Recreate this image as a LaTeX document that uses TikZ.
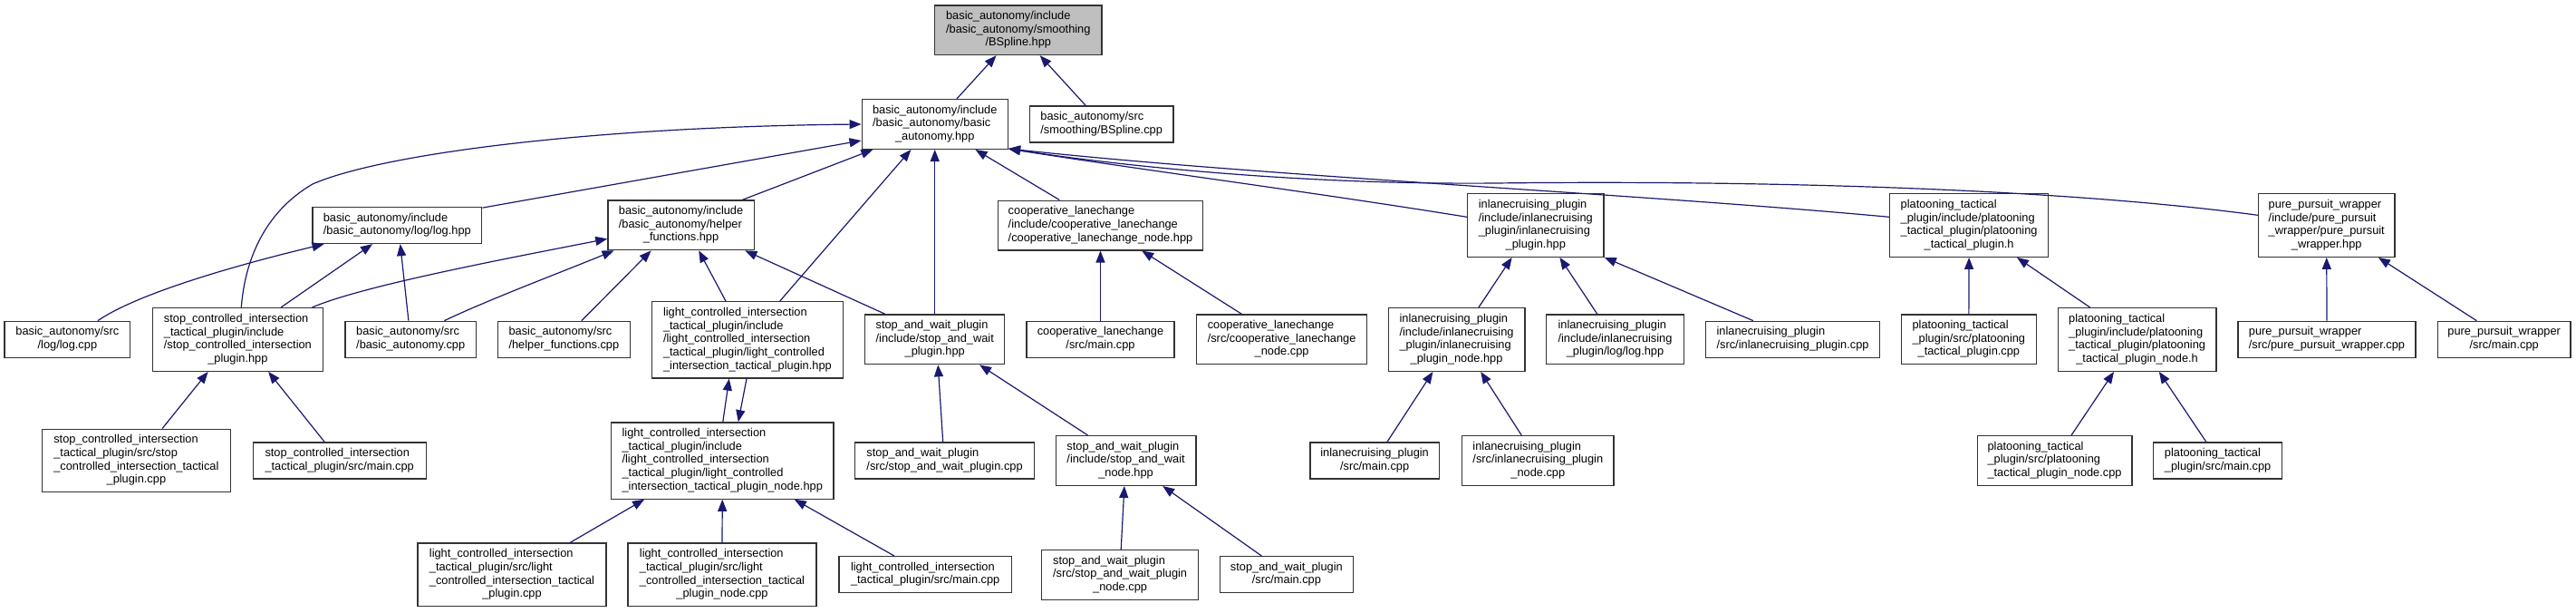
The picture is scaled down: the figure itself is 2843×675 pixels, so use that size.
\documentclass[tikz,border=0pt]{standalone}
\usepackage{fontspec}
\setmainfont{Liberation Sans}
\usetikzlibrary{arrows.meta,calc}
\definecolor{mblue}{RGB}{25,25,112}
\definecolor{rootgray}{RGB}{191,191,191}
\newcommand{\fl}[2]{\begin{tabular}{@{}l@{}}#1\\\multicolumn{1}{@{}c@{}}{#2}\end{tabular}}
\tikzset{
  fbox/.style={draw=black!80, line width=1.3pt, fill=white, inner sep=0pt, font=\fontsize{12.8}{14.67}\selectfont, text=black},
  ltwo/.style={minimum height=40pt},
  lthree/.style={minimum height=54.7pt},
  lfour/.style={minimum height=69.6pt},
  lfive/.style={minimum height=84.3pt},
  edge/.style={draw=mblue, line width=1.2pt, -{Triangle[length=13pt,width=10pt]}}
}
\begin{document}
\begin{tikzpicture}[x=1pt,y=-1pt]
\useasboundingbox[fill=white] (0,0) rectangle (2843,675);
% row 1
\node[fbox,lthree,fill=rootgray,minimum width=184.6pt] (root) at (1123.8,33.2) {\fl{basic\_autonomy/include\\/basic\_autonomy/smoothing}{/BSpline.hpp}};
% row 2
\node[fbox,lthree,minimum width=161.1pt] (ba) at (1031.75,137) {\fl{basic\_autonomy/include\\/basic\_autonomy/basic}{\_autonomy.hpp}};
\node[fbox,ltwo,minimum width=158.9pt] (bscpp) at (1215.65,137) {\fl{basic\_autonomy/src}{/smoothing/BSpline.cpp}};
% row 3
\node[fbox,ltwo,minimum width=186.8pt] (loghpp) at (438.3,248.5) {\fl{basic\_autonomy/include}{/basic\_autonomy/log/log.hpp}};
\node[fbox,lthree,minimum width=161.3pt] (helper) at (751.55,248.35) {\fl{basic\_autonomy/include\\/basic\_autonomy/helper}{\_functions.hpp}};
\node[fbox,lthree,minimum width=225.4pt] (coopnode) at (1214.5,248.5) {\fl{cooperative\_lanechange\\/include/cooperative\_lanechange}{/cooperative\_lanechange\_node.hpp}};
\node[fbox,lfour,minimum width=150.6pt] (inlane) at (1694.8,248.5) {\fl{inlanecruising\_plugin\\/include/inlanecruising\\\_plugin/inlanecruising}{\_plugin.hpp}};
\node[fbox,lfour,minimum width=175pt] (plat) at (2173.1,248.5) {\fl{platooning\_tactical\\\_plugin/include/platooning\\\_tactical\_plugin/platooning}{\_tactical\_plugin.h}};
\node[fbox,lfour,minimum width=150.3pt] (pp) at (2567.75,248.5) {\fl{pure\_pursuit\_wrapper\\/include/pure\_pursuit\\\_wrapper/pure\_pursuit}{\_wrapper.hpp}};
% row 4
\node[fbox,ltwo,minimum width=138.6pt] (logcpp) at (74.4,374.3) {\fl{basic\_autonomy/src}{/log/log.cpp}};
\node[fbox,lfour,minimum width=187.8pt] (sci) at (262.4,374.5) {\fl{stop\_controlled\_intersection\\\_tactical\_plugin/include\\/stop\_controlled\_intersection}{\_plugin.hpp}};
\node[fbox,ltwo,minimum width=144.2pt] (bacpp) at (453.2,374.3) {\fl{basic\_autonomy/src}{/basic\_autonomy.cpp}};
\node[fbox,ltwo,minimum width=145.6pt] (helpcpp) at (622.4,374.3) {\fl{basic\_autonomy/src}{/helper\_functions.cpp}};
\node[fbox,lfive,minimum width=211.2pt] (lci) at (824.9,374.85) {\fl{light\_controlled\_intersection\\\_tactical\_plugin/include\\/light\_controlled\_intersection\\\_tactical\_plugin/light\_controlled}{\_intersection\_tactical\_plugin.hpp}};
\node[fbox,lthree,minimum width=153.9pt] (swp) at (1031.75,374.35) {\fl{stop\_and\_wait\_plugin\\/include/stop\_and\_wait}{\_plugin.hpp}};
\node[fbox,ltwo,minimum width=163pt] (coopmain) at (1214.5,374.3) {\fl{cooperative\_lanechange}{/src/main.cpp}};
\node[fbox,lthree,minimum width=188.4pt] (coopnodecpp) at (1414.6,374.35) {\fl{cooperative\_lanechange\\/src/cooperative\_lanechange}{\_node.cpp}};
\node[fbox,lfour,minimum width=150.7pt] (inlanenode) at (1607.55,374.5) {\fl{inlanecruising\_plugin\\/include/inlanecruising\\\_plugin/inlanecruising}{\_plugin\_node.hpp}};
\node[fbox,lthree,minimum width=151.6pt] (inlanelog) at (1782.5,374.35) {\fl{inlanecruising\_plugin\\/include/inlanecruising}{\_plugin/log/log.hpp}};
\node[fbox,ltwo,minimum width=191.9pt] (inlanecpp) at (1978.55,374.3) {\fl{inlanecruising\_plugin}{/src/inlanecruising\_plugin.cpp}};
\node[fbox,lthree,minimum width=148.9pt] (platcpp) at (2172.85,374.35) {\fl{platooning\_tactical\\\_plugin/src/platooning}{\_tactical\_plugin.cpp}};
\node[fbox,lfour,minimum width=174.8pt] (platnode) at (2358.6,374.5) {\fl{platooning\_tactical\\\_plugin/include/platooning\\\_tactical\_plugin/platooning}{\_tactical\_plugin\_node.h}};
\node[fbox,ltwo,minimum width=196pt] (ppcpp) at (2568,374.3) {\fl{pure\_pursuit\_wrapper}{/src/pure\_pursuit\_wrapper.cpp}};
\node[fbox,ltwo,minimum width=146.6pt] (ppmain) at (2763.7,374.3) {\fl{pure\_pursuit\_wrapper}{/src/main.cpp}};
% row 5
\node[fbox,lfour,minimum width=208pt] (scicpp) at (150.4,508) {\fl{stop\_controlled\_intersection\\\_tactical\_plugin/src/stop\\\_controlled\_intersection\_tactical}{\_plugin.cpp}};
\node[fbox,ltwo,minimum width=191pt] (scimain) at (374.7,508) {\fl{stop\_controlled\_intersection}{\_tactical\_plugin/src/main.cpp}};
\node[fbox,lfive,minimum width=245.5pt] (lcnode) at (797.25,508) {\fl{light\_controlled\_intersection\\\_tactical\_plugin/include\\/light\_controlled\_intersection\\\_tactical\_plugin/light\_controlled}{\_intersection\_tactical\_plugin\_node.hpp}};
\node[fbox,ltwo,minimum width=197.5pt] (swcpp) at (1042.55,508) {\fl{stop\_and\_wait\_plugin}{/src/stop\_and\_wait\_plugin.cpp}};
\node[fbox,lthree,minimum width=154.7pt] (swnode) at (1242.55,508) {\fl{stop\_and\_wait\_plugin\\/include/stop\_and\_wait}{\_node.hpp}};
\node[fbox,ltwo,minimum width=142.4pt] (inlanemain) at (1517.1,508) {\fl{inlanecruising\_plugin}{/src/main.cpp}};
\node[fbox,lthree,minimum width=167.6pt] (inlanenodecpp) at (1697.3,508) {\fl{inlanecruising\_plugin\\/src/inlanecruising\_plugin}{\_node.cpp}};
\node[fbox,lthree,minimum width=170.7pt] (platnodecpp) at (2267.55,508) {\fl{platooning\_tactical\\\_plugin/src/platooning}{\_tactical\_plugin\_node.cpp}};
\node[fbox,ltwo,minimum width=141.6pt] (platmain) at (2447.6,508) {\fl{platooning\_tactical}{\_plugin/src/main.cpp}};
% row 6
\node[fbox,lfour,minimum width=208pt] (lccpp) at (565,633.85) {\fl{light\_controlled\_intersection\\\_tactical\_plugin/src/light\\\_controlled\_intersection\_tactical}{\_plugin.cpp}};
\node[fbox,lfour,minimum width=208.2pt] (lcnodecpp) at (797,633.85) {\fl{light\_controlled\_intersection\\\_tactical\_plugin/src/light\\\_controlled\_intersection\_tactical}{\_plugin\_node.cpp}};
\node[fbox,ltwo,minimum width=190.6pt] (lcmain) at (1021.2,633.7) {\fl{light\_controlled\_intersection}{\_tactical\_plugin/src/main.cpp}};
\node[fbox,lthree,minimum width=173.2pt] (swnodecpp) at (1236.1,633.8) {\fl{stop\_and\_wait\_plugin\\/src/stop\_and\_wait\_plugin}{\_node.cpp}};
\node[fbox,ltwo,minimum width=146.7pt] (swmain) at (1419.85,633.7) {\fl{stop\_and\_wait\_plugin}{/src/main.cpp}};
% edges
\draw[edge] ($(ba.north)+(24.15,0)$) -- ($(root.south)+(-24.3,0)$);
\draw[edge] ($(bscpp.north)+(-17.45,0)$) -- ($(root.south)+(23.9,0)$);
\draw[edge] ($(sci.north)+(3.9,0)$) .. controls (270,290) and (290,235) .. (345,203) .. controls (420,170) and (650,140) .. (ba.west);
\draw[edge] ($(loghpp.north east)+(0,1.3)$) -- ($(ba.west)+(0,18)$);
\draw[edge] ($(helper.north)+(67.85,0)$) -- ($(ba.south west)+(12.8,0)$);
\draw[edge] ($(lci.north)+(35.8,0)$) -- ($(ba.south)+(-26.35,0)$);
\draw[edge] (swp.north) -- (ba.south);
\draw[edge] ($(coopnode.north)+(-45.2,0)$) -- ($(ba.south)+(44.75,0)$);
\draw[edge] ($(inlane.west)+(0,-9.2)$) .. controls (1450,212) and (1250,186) .. ($(ba.south east)+(0,-1)$);
\draw[edge] ($(plat.west)+(0,-9.2)$) .. controls (1800,213) and (1400,195) .. ($(ba.south east)+(0,-1)$);
\draw[edge] ($(pp.west)+(0,-11.2)$) .. controls (2250,205) and (1900,199) .. (1650,202) .. controls (1450,204) and (1250,185) .. ($(ba.south east)+(0,-1)$);
\draw[edge] ($(logcpp.north)+(33.5,0)$) .. controls (150,325) and (250,295) .. ($(loghpp.south west)+(13.3,0)$);
\draw[edge] ($(sci.north)+(47.6,0)$) -- ($(loghpp.south)+(-27.3,0)$);
\draw[edge] ($(bacpp.north)+(-2.3,0)$) -- ($(loghpp.south)+(3.4,0)$);
\draw[edge] ($(sci.north)+(82,0)$) .. controls (400,315) and (560,285) .. ($(helper.west)+(0,15)$);
\draw[edge] ($(bacpp.north)+(37.2,0)$) .. controls (540,330) and (620,300) .. ($(helper.south west)+(7.3,0)$);
\draw[edge] ($(helpcpp.north)+(19.5,0)$) -- ($(helper.south)+(-32.95,0)$);
\draw[edge] ($(lci.north)+(-23.9,0)$) -- ($(helper.south)+(19.65,0)$);
\draw[edge] ($(swp.north)+(-54.85,0)$) -- ($(helper.south east)+(-10.5,0)$);
\draw[edge] (coopmain.north) -- (coopnode.south);
\draw[edge] ($(coopnodecpp.north)+(-44.2,0)$) -- ($(coopnode.south)+(45.7,0)$);
\draw[edge] ($(inlanenode.north)+(24.35,0)$) -- ($(inlane.south)+(-26.2,0)$);
\draw[edge] ($(inlanelog.north)+(-19.7,0)$) -- ($(inlane.south)+(26.6,0)$);
\draw[edge] ($(inlanecpp.north)+(-43.65,0)$) -- (inlane.south east);
\draw[edge] (platcpp.north) -- (plat.south);
\draw[edge] ($(platnode.north)+(-51.9,0)$) -- ($(plat.south)+(52.9,0)$);
\draw[edge] (ppcpp.north) -- (pp.south);
\draw[edge] ($(ppmain.north)+(-30.4,0)$) -- ($(pp.south)+(57.15,0)$);
\draw[edge] ($(scicpp.north)+(28.7,0)$) -- ($(sci.south)+(-32.8,0)$);
\draw[edge] ($(scimain.north)+(-16.5,0)$) -- ($(sci.south)+(33.8,0)$);
\draw[edge] ($(lcnode.north)+(0.55,0)$) -- ($(lci.south)+(-20.2,0)$);
\draw[edge] ($(lci.south)+(-0.9,0)$) -- ($(lcnode.north)+(17.55,0)$);
\draw[edge] ($(swcpp.north)+(-1.85,0)$) -- ($(swp.south)+(3.45,0)$);
\draw[edge] ($(swnode.north)+(-42,0)$) -- ($(swp.south)+(49.35,0)$);
\draw[edge] ($(inlanemain.north)+(13.8,0)$) -- ($(inlanenode.south)+(-26.15,0)$);
\draw[edge] ($(inlanenodecpp.north)+(-18.1,0)$) -- ($(inlanenode.south)+(26.65,0)$);
\draw[edge] ($(platnodecpp.north)+(18.45,0)$) -- ($(platnode.south)+(-25.6,0)$);
\draw[edge] ($(platmain.north)+(-12.7,0)$) -- ($(platnode.south)+(24.2,0)$);
\draw[edge] ($(lccpp.north)+(64.1,0)$) -- ($(lcnode.south west)+(37.2,0)$);
\draw[edge] (lcnodecpp.north) -- (lcnode.south);
\draw[edge] ($(lcmain.north)+(-34.2,0)$) -- ($(lcnode.south)+(79.55,0)$);
\draw[edge] ($(swnodecpp.north)+(1.1,0)$) -- ($(swnode.south)+(-1.65,0)$);
\draw[edge] ($(swmain.north)+(-27.45,0)$) -- ($(swnode.south)+(40.65,0)$);
\end{tikzpicture}
\end{document}
